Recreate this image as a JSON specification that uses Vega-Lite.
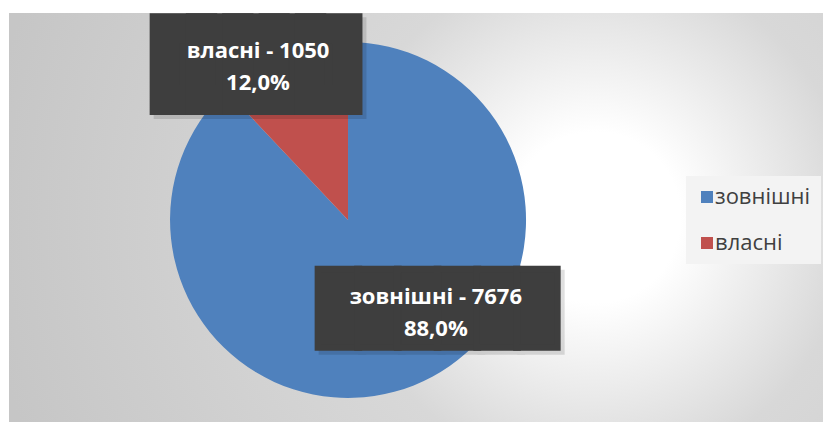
{
  "$schema": "https://vega.github.io/schema/vega-lite/v6.json",
  "width": 814,
  "height": 409,
  "autosize": {"type": "none"},
  "padding": {"left": 9, "top": 13, "right": 0, "bottom": 0},
  "background": "#ffffff",
  "view": {
    "stroke": null,
    "fill": {
      "gradient": "radial",
      "x1": 0.72, "y1": 0.5, "r1": 0,
      "x2": 0.72, "y2": 0.5, "r2": 0.75,
      "stops": [
        {"offset": 0, "color": "#ffffff"},
        {"offset": 0.14, "color": "#ffffff"},
        {"offset": 0.42, "color": "#d8d8d8"},
        {"offset": 1, "color": "#c6c6c6"}
      ]
    }
  },
  "data": {
    "values": [
      {"category": "зовнішні", "value": 7676, "label": "зовнішні - 7676\n88,0%"},
      {"category": "власні", "value": 1050, "label": "власні - 1050\n12,0%"}
    ]
  },
  "encoding": {
    "theta": {"field": "value", "type": "quantitative", "stack": true},
    "order": {"field": "category", "sort": "descending"}
  },
  "layer": [
    {
      "mark": {
        "type": "arc",
        "outerRadius": 178,
        "x": {"expr": "width*0.4165"},
        "y": {"expr": "height*0.506"}
      },
      "encoding": {
        "color": {
          "field": "category",
          "type": "nominal",
          "scale": {"domain": ["зовнішні", "власні"], "range": ["#4f81bd", "#c0504d"]},
          "legend": {
            "title": null,
            "orient": "none",
            "legendX": 677,
            "legendY": 163,
            "symbolType": "square",
            "symbolSize": 144,
            "symbolStrokeWidth": 0,
            "labelFont": "Open Sans",
            "labelFontSize": 22,
            "labelColor": "#404040",
            "labelOffset": -3,
            "rowPadding": 24,
            "padding": 10,
            "fillColor": "#f3f3f3"
          }
        }
      }
    },
    {
      "mark": {
        "type": "text",
        "x": {"expr": "width*0.4165"},
        "y": {"expr": "height*0.506"},
        "radius": {"expr": "datum.category == 'власні' ? 168 : 97"},
        "dx": {"expr": "datum.category == 'власні' ? -26 : 58"},
        "dy": {"expr": "datum.category == 'власні' ? 7 : 5"},
        "font": "DejaVu Sans Mono",
        "fill": "#000000",
        "stroke": "#000000",
        "opacity": 0.12,
        "strokeJoin": "miter",
        "align": "center",
        "baseline": "middle"
      },
      "encoding": {
        "detail": {"field": "category"},
        "text": {"condition": {"test": "datum.category == 'власні'", "value": "█████"}, "value": "██████"},
        "size": {"condition": {"test": "datum.category == 'власні'", "value": 60.4}, "value": 66},
        "strokeWidth": {"condition": {"test": "datum.category == 'власні'", "value": 30}, "value": 6.5}
      }
    },
    {
      "mark": {
        "type": "text",
        "x": {"expr": "width*0.4165"},
        "y": {"expr": "height*0.506"},
        "radius": {"expr": "datum.category == 'власні' ? 168 : 97"},
        "dx": {"expr": "datum.category == 'власні' ? -30 : 54"},
        "dy": {"expr": "datum.category == 'власні' ? 3.4 : 1"},
        "font": "DejaVu Sans Mono",
        "fill": "#3e3e3e",
        "stroke": "#3e3e3e",
        "strokeJoin": "miter",
        "align": "center",
        "baseline": "middle"
      },
      "encoding": {
        "detail": {"field": "category"},
        "text": {"condition": {"test": "datum.category == 'власні'", "value": "█████"}, "value": "██████"},
        "size": {"condition": {"test": "datum.category == 'власні'", "value": 60.4}, "value": 66},
        "strokeWidth": {"condition": {"test": "datum.category == 'власні'", "value": 30}, "value": 6.5}
      }
    },
    {
      "mark": {
        "type": "text",
        "x": {"expr": "width*0.4165"},
        "y": {"expr": "height*0.506"},
        "radius": {"expr": "datum.category == 'власні' ? 168 : 97"},
        "dx": {"expr": "datum.category == 'власні' ? -28 : 52"},
        "dy": -13,
        "font": "Open Sans",
        "fontWeight": "bold",
        "fontSize": 22,
        "fill": "#ffffff",
        "align": "center",
        "baseline": "middle",
        "lineBreak": "\n",
        "lineHeight": 32
      },
      "encoding": {
        "detail": {"field": "category"},
        "text": {"field": "label"}
      }
    }
  ]
}
